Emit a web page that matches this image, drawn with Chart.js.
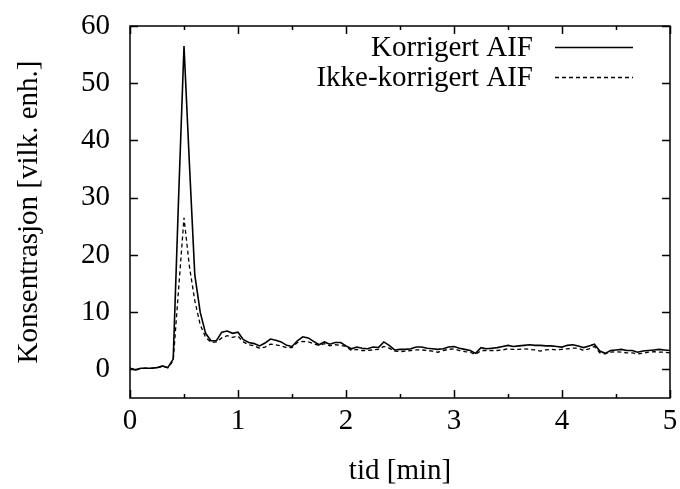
<!DOCTYPE html>
<html><head><meta charset="utf-8">
<script src="https://cdn.jsdelivr.net/npm/chart.js@4/dist/chart.umd.min.js"></script>
<style>html,body{margin:0;padding:0;background:#fff}</style>
</head><body>
<canvas id="c" width="680" height="489"></canvas>
<script>
const times = [0,0.05,0.1,0.15,0.2,0.25,0.3,0.35,0.4,0.45,0.5,0.55,0.6,0.65,0.7,0.75,0.8,0.85,0.9,0.95,
1,1.05,1.1,1.15,1.2,1.25,1.3,1.35,1.4,1.45,1.5,1.55,1.6,1.65,1.7,1.75,1.8,1.85,1.9,1.95,
2,2.05,2.1,2.15,2.2,2.25,2.3,2.35,2.4,2.45,2.5,2.55,2.6,2.65,2.7,2.75,2.8,2.85,2.9,2.95,
3,3.05,3.1,3.15,3.2,3.25,3.3,3.35,3.4,3.45,3.5,3.55,3.6,3.65,3.7,3.75,3.8,3.85,3.9,3.95,
4,4.05,4.1,4.15,4.2,4.25,4.3,4.35,4.4,4.45,4.5,4.55,4.6,4.65,4.7,4.75,4.8,4.85,4.9,4.95,5];
const corrected = [0.2,-0.1,0.2,0.2,0.2,0.3,0.6,0.3,1.8,30,56.5,36,16.5,10,6.3,5.0,5.0,6.5,6.7,6.3,
6.5,5.2,4.7,4.5,4.1,4.6,5.3,5.1,4.8,4.2,4.0,5.0,5.7,5.5,4.9,4.3,4.8,4.4,4.7,4.7,
4.1,3.6,3.9,3.7,3.6,3.9,3.8,4.8,4.2,3.4,3.5,3.5,3.6,3.9,3.9,3.7,3.6,3.5,3.6,3.9,
4.0,3.7,3.5,3.3,2.8,3.8,3.6,3.7,3.8,4.0,4.2,4.0,4.1,4.2,4.3,4.2,4.2,4.1,4.1,4.0,
3.9,4.2,4.3,4.1,3.8,4.1,4.4,3.2,2.8,3.3,3.4,3.5,3.3,3.3,3.0,3.2,3.3,3.4,3.5,3.4,3.3];
const uncorrected = [0.2,-0.1,0.2,0.2,0.2,0.3,0.5,0.3,1.5,14,26.5,18,12,7.8,5.6,4.7,4.8,5.5,5.9,5.6,
5.8,4.8,4.3,4.1,3.7,3.9,4.4,4.3,4.1,3.8,3.8,4.7,4.9,4.8,4.5,4.2,4.5,4.1,4.3,4.2,
4.0,3.3,3.5,3.3,3.3,3.4,3.5,4.0,3.7,3.2,3.1,3.2,3.3,3.4,3.4,3.3,3.2,3.0,3.3,3.5,
3.6,3.3,3.1,3.0,2.6,3.3,3.3,3.3,3.3,3.4,3.6,3.5,3.5,3.6,3.5,3.4,3.2,3.4,3.5,3.4,
3.5,3.6,3.7,3.7,3.3,3.6,4.0,2.9,2.7,3.0,3.1,3.0,2.9,2.9,2.7,2.8,3.0,3.1,3.0,3.0,2.9];
const seriesLabels = ['Korrigert AIF', 'Ikke-korrigert AIF'];
const xTicks = [0, 1, 2, 3, 4, 5];
const xMinorTicks = [0.5, 1.5, 2.5, 3.5, 4.5];
const yTicks = [0, 10, 20, 30, 40, 50, 60];
const xTitle = 'tid [min]';
const yTitle = 'Konsentrasjon [vilk. enh.]';

const FONT = '"Liberation Serif", "Times New Roman", serif';
const toPts = arr => times.map((t, i) => ({x: t, y: arr[i]}));

const framePlugin = {
  id: 'frame',
  afterDatasetsDraw(chart) {
    const ctx = chart.ctx, a = chart.chartArea;
    const xs = chart.scales.x, ys = chart.scales.y;
    ctx.save();
    ctx.strokeStyle = '#000';
    ctx.lineWidth = 1.5;
    ctx.beginPath();
    xTicks.forEach(v => {
      const p = Math.round(xs.getPixelForValue(v)) + 0.5;
      ctx.moveTo(p, a.bottom); ctx.lineTo(p, a.bottom - 8);
      ctx.moveTo(p, a.top); ctx.lineTo(p, a.top + 8);
    });
    xMinorTicks.forEach(v => {
      const p = Math.round(xs.getPixelForValue(v)) + 0.5;
      ctx.moveTo(p, a.bottom); ctx.lineTo(p, a.bottom - 4);
      ctx.moveTo(p, a.top); ctx.lineTo(p, a.top + 4);
    });
    yTicks.forEach(v => {
      const p = Math.round(ys.getPixelForValue(v)) + 0.5;
      ctx.moveTo(a.left, p); ctx.lineTo(a.left + 8, p);
      ctx.moveTo(a.right, p); ctx.lineTo(a.right - 8, p);
    });
    ctx.stroke();
    ctx.strokeRect(a.left, a.top, a.right - a.left, a.bottom - a.top);
    // legend
    ctx.font = '29px ' + FONT;
    ctx.fillStyle = '#000';
    ctx.textAlign = 'right';
    ctx.textBaseline = 'middle';
    const rows = [a.top + 21, a.top + 51];
    chart.data.datasets.forEach((ds, i) => {
      const y = rows[i];
      ctx.fillText(ds.label, a.right - 137, y + 1);
      ctx.save();
      ctx.lineWidth = ds.borderWidth;
      ctx.setLineDash(ds.borderDash || []);
      ctx.beginPath();
      ctx.moveTo(a.right - 115, y + 0.5);
      ctx.lineTo(a.right - 37, y + 0.5);
      ctx.stroke();
      ctx.restore();
    });
    ctx.restore();
  }
};

new Chart(document.getElementById('c'), {
  type: 'line',
  data: {
    datasets: [
      {label: seriesLabels[0], data: toPts(corrected), borderColor: '#000', borderWidth: 1.6, pointRadius: 0, tension: 0, fill: false},
      {label: seriesLabels[1], data: toPts(uncorrected), borderColor: '#000', borderWidth: 1.3, borderDash: [4, 3], pointRadius: 0, tension: 0, fill: false}
    ]
  },
  options: {
    responsive: false,
    animation: false,
    devicePixelRatio: 1,
    layout: {padding: {top: 26, right: 10, left: 0, bottom: 0}},
    plugins: {legend: {display: false}, tooltip: {enabled: false}},
    scales: {
      x: {
        type: 'linear', min: 0, max: 5,
        afterBuildTicks: s => { s.ticks = xTicks.map(v => ({value: v})); },
        afterFit: s => { s.height = 91; s.paddingLeft = 0; s.paddingRight = 0; },
        grid: {display: false, drawTicks: false},
        border: {display: false},
        ticks: {font: {family: FONT, size: 29}, color: '#000', padding: 6, maxRotation: 0, autoSkip: false},
        title: {display: true, text: xTitle, font: {family: FONT, size: 29}, color: '#000', padding: {top: 4, bottom: 0}}
      },
      y: {
        type: 'linear', min: -5, max: 60,
        afterBuildTicks: s => { s.ticks = yTicks.map(v => ({value: v})); },
        afterFit: s => { s.width = 130; s.paddingTop = 0; s.paddingBottom = 0; },
        grid: {display: false, drawTicks: false},
        border: {display: false},
        ticks: {font: {family: FONT, size: 29}, color: '#000', padding: 20, autoSkip: false},
        title: {display: true, text: yTitle, font: {family: FONT, size: 29}, color: '#000', padding: {top: 12, bottom: 0}}
      }
    }
  },
  plugins: [framePlugin]
});
</script>
</body></html>
